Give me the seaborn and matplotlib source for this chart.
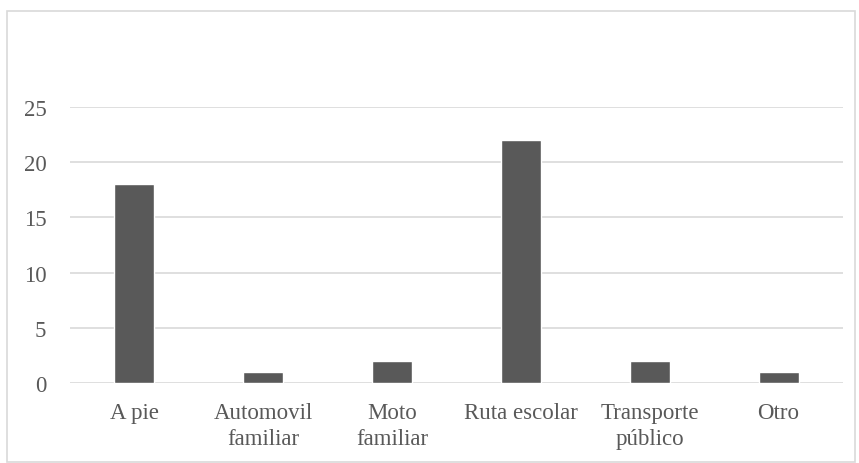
import matplotlib
matplotlib.use('Agg')
import matplotlib.pyplot as plt
import seaborn as sns
import pandas as pd

categories = ['A pie', 'Automovil\nfamiliar', 'Moto\nfamiliar', 'Ruta escolar', 'Transporte\npúblico', 'Otro']
values = [18, 1, 2, 22, 2, 1]

sns.set_theme(style='white')
plt.rcParams['font.family'] = ['Liberation Serif', 'DejaVu Serif']

df = pd.DataFrame({'medio': categories, 'cantidad': values})

fig = plt.figure(figsize=(8.59, 4.64), dpi=100)
ax = fig.add_axes([70 / 859, 1 - 384 / 464, (843 - 70) / 859, (384 - 108) / 464])

sns.barplot(data=df, x='medio', y='cantidad', color='#595959', saturation=1,
            width=0.31, ax=ax, zorder=3)

ax.set_ylim(0, 25)
ax.set_yticks([0, 5, 10, 15, 20, 25])
ax.yaxis.grid(True, color='#d9d9d9', linewidth=1.2, zorder=0)
ax.set_axisbelow(True)
for s in ax.spines.values():
    s.set_visible(False)
ax.set_xlabel('')
ax.set_ylabel('')
ax.tick_params(axis='y', length=0, pad=17, labelsize=16.5, labelcolor='#595959')
ax.tick_params(axis='x', length=0, pad=14, labelsize=16.5, labelcolor='#595959')
for lbl in ax.get_xticklabels():
    lbl.set_linespacing(1.3)

# outer chart border
border = plt.Rectangle((7 / 859, 1 / 464), 848 / 859, 451 / 464, transform=fig.transFigure,
                       fill=False, edgecolor='#d9d9d9', linewidth=1.2)
fig.patches.append(border)

fig.savefig('out.png', dpi=100)
